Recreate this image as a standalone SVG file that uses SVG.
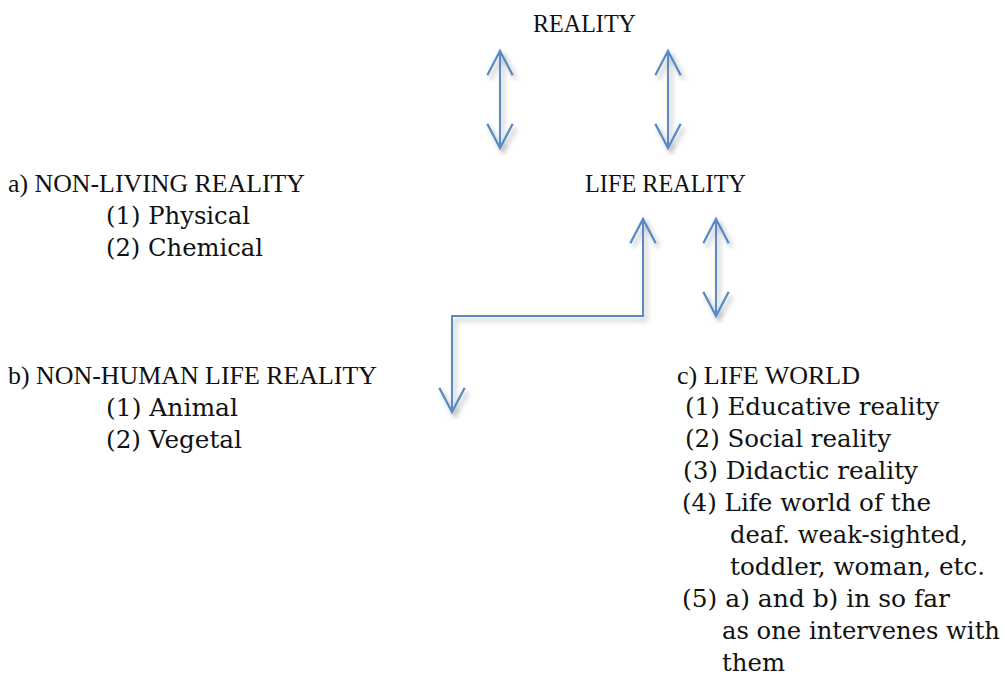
<svg xmlns="http://www.w3.org/2000/svg" width="1005" height="675" viewBox="0 0 1005 675">
<style>
.cap{font-family:"Liberation Serif","Times New Roman",serif;font-size:26px;fill:#111;}
.low{font-family:"DejaVu Serif","Liberation Serif",serif;font-size:24px;fill:#111;}
.conn{fill:none;stroke:#5A8AC6;stroke-width:2;marker-start:url(#head);marker-end:url(#head);}
</style>
<defs>
<marker id="head" markerUnits="userSpaceOnUse" orient="auto-start-reverse" refX="0" refY="0" markerWidth="30" markerHeight="30" viewBox="-24 -13 26 26" overflow="visible">
<path d="M-21,-11 L0,0 L-21,11" fill="none" stroke="#5A8AC6" stroke-width="2"/>
</marker>
<filter id="sh" x="-50%" y="-20%" width="200%" height="140%">
<feDropShadow dx="3" dy="4" stdDeviation="2.5" flood-color="#000" flood-opacity="0.3"/>
</filter>
</defs>
<rect width="1005" height="675" fill="#fff"/>
<g id="connectors" filter="url(#sh)">
<path class="conn" d="M500,51 V148"/>
<path class="conn" d="M668,51 V148"/>
<path class="conn" d="M716,219 V316"/>
<path class="conn" d="M643,219 V316 H452 V412"/>
</g>
<g id="reality"><text class="cap" x="533" y="32" textLength="103" lengthAdjust="spacingAndGlyphs">REALITY</text></g>
<g id="life-reality"><text class="cap" x="585" y="192" textLength="161" lengthAdjust="spacingAndGlyphs">LIFE REALITY</text></g>
<g id="non-living">
<text class="cap" x="8" y="192" textLength="297" lengthAdjust="spacingAndGlyphs">a) NON-LIVING REALITY</text>
<text class="low" x="106" y="224" textLength="144" lengthAdjust="spacingAndGlyphs">(1) Physical</text>
<text class="low" x="106" y="256" textLength="157" lengthAdjust="spacingAndGlyphs">(2) Chemical</text>
</g>
<g id="non-human">
<text class="cap" x="8" y="384" textLength="369" lengthAdjust="spacingAndGlyphs">b) NON-HUMAN LIFE REALITY</text>
<text class="low" x="106" y="416" textLength="132" lengthAdjust="spacingAndGlyphs">(1) Animal</text>
<text class="low" x="106" y="448" textLength="136" lengthAdjust="spacingAndGlyphs">(2) Vegetal</text>
</g>
<g id="life-world">
<text class="cap" x="677" y="384" textLength="183" lengthAdjust="spacingAndGlyphs">c) LIFE WORLD</text>
<text class="low" x="685" y="415" textLength="254" lengthAdjust="spacingAndGlyphs">(1) Educative reality</text>
<text class="low" x="685" y="447" textLength="206" lengthAdjust="spacingAndGlyphs">(2) Social reality</text>
<text class="low" x="683" y="479" textLength="235" lengthAdjust="spacingAndGlyphs">(3) Didactic reality</text>
<text class="low" x="682" y="511" textLength="249" lengthAdjust="spacingAndGlyphs">(4) Life world of the</text>
<text class="low" x="730" y="543" textLength="238" lengthAdjust="spacingAndGlyphs">deaf. weak-sighted,</text>
<text class="low" x="730" y="575" textLength="255" lengthAdjust="spacingAndGlyphs">toddler, woman, etc.</text>
<text class="low" x="682" y="607" textLength="268" lengthAdjust="spacingAndGlyphs">(5) a) and b) in so far</text>
<text class="low" x="722" y="639" textLength="278" lengthAdjust="spacingAndGlyphs">as one intervenes with</text>
<text class="low" x="722" y="671" textLength="63" lengthAdjust="spacingAndGlyphs">them</text>
</g>
</svg>
